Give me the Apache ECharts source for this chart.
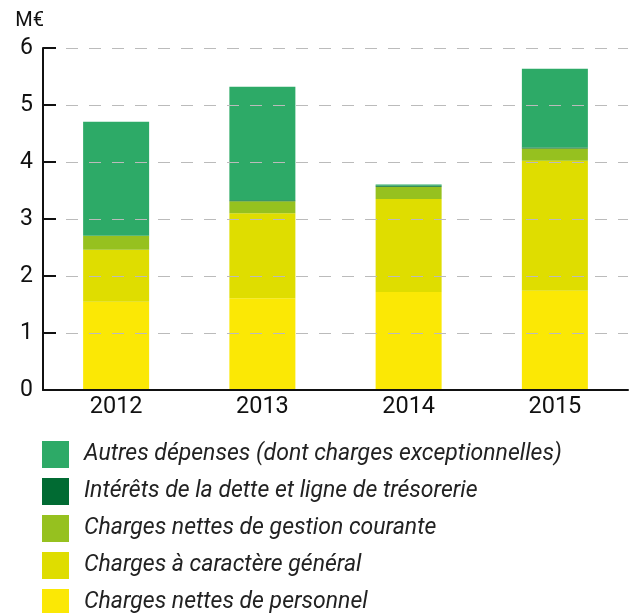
<!DOCTYPE html>
<html><head><meta charset="utf-8">
<script src="https://cdn.jsdelivr.net/npm/echarts@6/dist/echarts.min.js"></script>
<style>html,body{margin:0;padding:0;background:#fff}#c{width:640px;height:613px}</style>
</head><body><div id="c"></div>
<script>
const categories = ['2012', '2013', '2014', '2015'];
const personnel = [1.55, 1.61, 1.72, 1.74];
const general = [0.91, 1.49, 1.63, 2.28];
const gestion = [0.245, 0.21, 0.215, 0.215];
const interets = [0, 0.02, 0.02, 0.02];
const autres = [2.0, 1.99, 0.02, 1.38];
const yTicks = [0, 1, 2, 3, 4, 5, 6];

const names = ['Autres dépenses (dont charges exceptionnelles)', 'Intérêts de la dette et ligne de trésorerie', 'Charges nettes de gestion courante', 'Charges à caractère général', 'Charges nettes de personnel'];
const colors = ['#2DAA67', '#016B33', '#96C11F', '#DFDD00', '#FBE805'];
const seriesData = [autres, interets, gestion, general, personnel];

const series = [];
for (let i = 4; i >= 0; i--) {
  series.push({
    name: names[i], type: 'bar', stack: 'total', barWidth: 66,
    data: seriesData[i], itemStyle: { color: colors[i] },
    z: 2
  });
}
const chart = echarts.init(document.getElementById('c'));
chart.setOption({
  animation: false,
  textStyle: { fontFamily: 'Roboto' },
  grid: { left: 43, right: 12, top: 48, bottom: 223 },
  xAxis: {
    type: 'category', data: categories, z: 6,
    axisLine: { lineStyle: { color: '#111', width: 2 } },
    axisTick: { inside: true, length: 8, lineStyle: { color: '#111', width: 2 } },
    axisLabel: { fontSize: 23.5, color: '#111', margin: 5, fontFamily: 'Roboto' }
  },
  yAxis: {
    type: 'value', min: 0, max: 6, interval: 1, z: 5,
    name: 'M€', nameLocation: 'end', nameGap: 17,
    nameTextStyle: { fontSize: 20, color: '#111', align: 'right', padding: [0, -1, 0, 0] },
    axisLine: { show: true, lineStyle: { color: '#111', width: 2 } },
    axisTick: { show: true, inside: true, length: 13, lineStyle: { color: '#111', width: 2 } },
    axisLabel: { fontSize: 23, color: '#111', margin: 10, fontFamily: 'Roboto' },
    splitLine: { show: true, lineStyle: { color: '#bbbbbb', type: [12, 11], width: 1 } }
  },
  legend: {
    orient: 'vertical', left: 42, top: 441, height: 400, padding: 0,
    itemWidth: 27, itemHeight: 27, itemGap: 10,
    data: names.map(n => ({ name: n, icon: 'rect' })),
    textStyle: { fontSize: 23, fontStyle: 'italic', color: '#222', fontFamily: 'Roboto', padding: [0, 0, 0, 10] },
    selectedMode: false
  },
  series: series
});
</script></body></html>
